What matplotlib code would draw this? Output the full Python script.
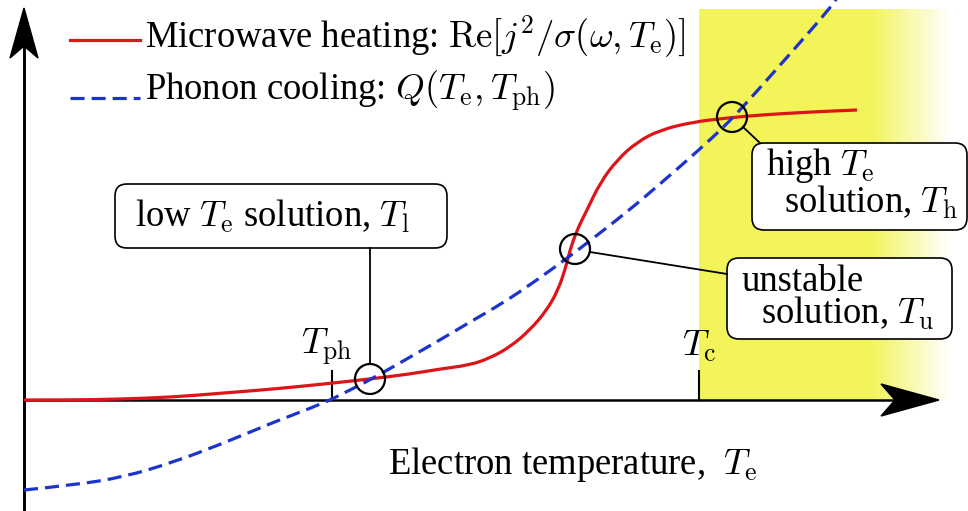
import numpy as np
import matplotlib.pyplot as plt
from matplotlib.patches import Circle, FancyBboxPatch, Polygon, PathPatch
from matplotlib.path import Path

plt.rcParams['font.family'] = ['Liberation Serif', 'DejaVu Serif']
plt.rcParams['mathtext.fontset'] = 'cm'

# curves (T = electron temperature, P = power, arbitrary units)
heat_T = [0, 50, 100, 150, 200, 250, 300, 346, 386, 416, 446, 466, 486, 506,
          523, 534, 541, 546, 553, 563, 576, 593, 613, 636, 669, 703, 736, 786, 833]
heat_P = [0, 0, 1, 3, 7, 11, 16, 21, 26, 31, 35, 42, 53, 70,
          90, 110, 130, 150, 170, 190, 217, 240, 258, 270, 278, 282, 285, 288, 290]

cool_T = [0, 50, 100, 150, 200, 250, 300, 320, 346, 416, 446, 479, 513, 546,
          563, 603, 636, 676, 703, 726, 766, 808, 814]
cool_P = [-90, -85, -77, -62, -43, -22, -3, 7, 20, 60, 78, 97, 120, 144,
          157, 188, 216, 251, 276, 301, 346, 394, 404]

T_ph = 308
T_c = 675
sol_T = [346, 551, 708]   # low, unstable, high
sol_P = [21, 151, 283]

red = '#dd1418'
blue = '#1c34cc'
yellow = (0.95, 0.96, 0.35)
fs = 26.4


def smooth_path(xs, ys):
    # quadratic bezier through the midpoints, so the polyline renders smoothly
    pts = np.column_stack([xs, ys]).astype(float)
    verts = [pts[0]]
    codes = [Path.MOVETO]
    for i in range(1, len(pts) - 1):
        verts += [pts[i], (pts[i] + pts[i + 1]) / 2]
        codes += [Path.CURVE3, Path.CURVE3]
    verts.append(pts[-1])
    codes.append(Path.LINETO)
    return Path(verts, codes)


fig = plt.figure(figsize=(9.68, 5.11), dpi=100)
ax = fig.add_axes([0, 0, 1, 1])
ax.axis('off')

# superconducting-side shading, fading out to the right
gx = np.linspace(T_c, 944, 400)
img = np.zeros((1, gx.size, 4))
img[..., :3] = yellow
img[0, :, 3] = np.clip((926 - gx) / 80, 0, 1)
ax.imshow(img, extent=[T_c, 944, 0, 391], aspect='auto', zorder=0,
          interpolation='bilinear')

# axes with stealth arrows
ax.plot([0, 0], [-111, 360], color='k', lw=2.1, zorder=2)
ax.plot([0, 880], [0, 0], color='k', lw=1.8, zorder=2)
ax.add_patch(Polygon([(0, 392), (-14, 342), (0, 354), (14, 342)],
                     closed=True, color='k', zorder=2))
ax.add_patch(Polygon([(915, 0), (857, 16), (871, 0), (857, -16)],
                     closed=True, color='k', zorder=2))

# ticks
for t in (T_ph, T_c):
    ax.plot([t, t], [0, 29], color='k', lw=1.5, zorder=2)
ax.text(T_ph - 5, 46, r'$T_\mathrm{ph}$', fontsize=fs, ha='center', va='baseline')
ax.text(T_c, 44, r'$T_\mathrm{c}$', fontsize=fs, ha='center', va='baseline')

# curves
ax.add_patch(PathPatch(smooth_path(heat_T, heat_P), fill=False, ec=red,
                       lw=2.3, zorder=3))
ax.add_patch(PathPatch(smooth_path(cool_T, cool_P), fill=False, ec=blue,
                       lw=2.3, ls=(0, (4.4, 2.2)), zorder=3))

# solution markers
for t, p in zip(sol_T, sol_P):
    ax.add_patch(Circle((t, p), 15, fill=False, ec='k', lw=1.6, zorder=5))

# labelled boxes and connectors
box_kw = dict(boxstyle='round,pad=0,rounding_size=12', fc='white', ec='k',
              lw=1.2, zorder=4)
ax.add_patch(FancyBboxPatch((91, 152), 332, 64, **box_kw))
ax.add_patch(FancyBboxPatch((728, 170), 215, 87, **box_kw))
ax.add_patch(FancyBboxPatch((703, 61), 225, 81, **box_kw))

ax.plot([sol_T[0], sol_T[0]], [152, sol_P[0] + 15], color='k', lw=1.3, zorder=4)
ax.plot([566, 703], [148, 126], color='k', lw=1.3, zorder=4)
ax.plot([719, 736], [273, 257], color='k', lw=1.3, zorder=4)

ax.text(111, 173, r'low $T_\mathrm{e}$ solution, $T_\mathrm{l}$', fontsize=fs,
        va='baseline', zorder=6)
ax.text(742, 187, 'high $T_\\mathrm{e}$\n  solution, $T_\\mathrm{h}$', fontsize=fs,
        va='baseline', ha='left', linespacing=0.95, zorder=6)
ax.text(718, 109, 'unstable', fontsize=fs, va='baseline', zorder=6)
ax.text(737, 76, r'solution, $T_\mathrm{u}$', fontsize=fs, va='baseline', zorder=6)

# legend
ax.plot([46, 116], [360, 360], color=red, lw=2.3)
ax.text(121, 352, r'Microwave heating: $\mathrm{Re}[j^2/\sigma(\omega,T_\mathrm{e})]$',
        fontsize=fs, va='baseline')
ax.plot([46, 116], [302, 302], color=blue, lw=2.3, ls=(0, (4.4, 2.2)))
ax.text(121, 300, r'Phonon cooling: $Q(T_\mathrm{e},T_\mathrm{ph})$',
        fontsize=fs, va='baseline')

ax.text(364, -74, r'Electron temperature,  $T_\mathrm{e}$', fontsize=fs, va='baseline')

ax.set_xlim(-24, 944)
ax.set_ylim(-111, 400)

fig.savefig('out.png', dpi=100)
